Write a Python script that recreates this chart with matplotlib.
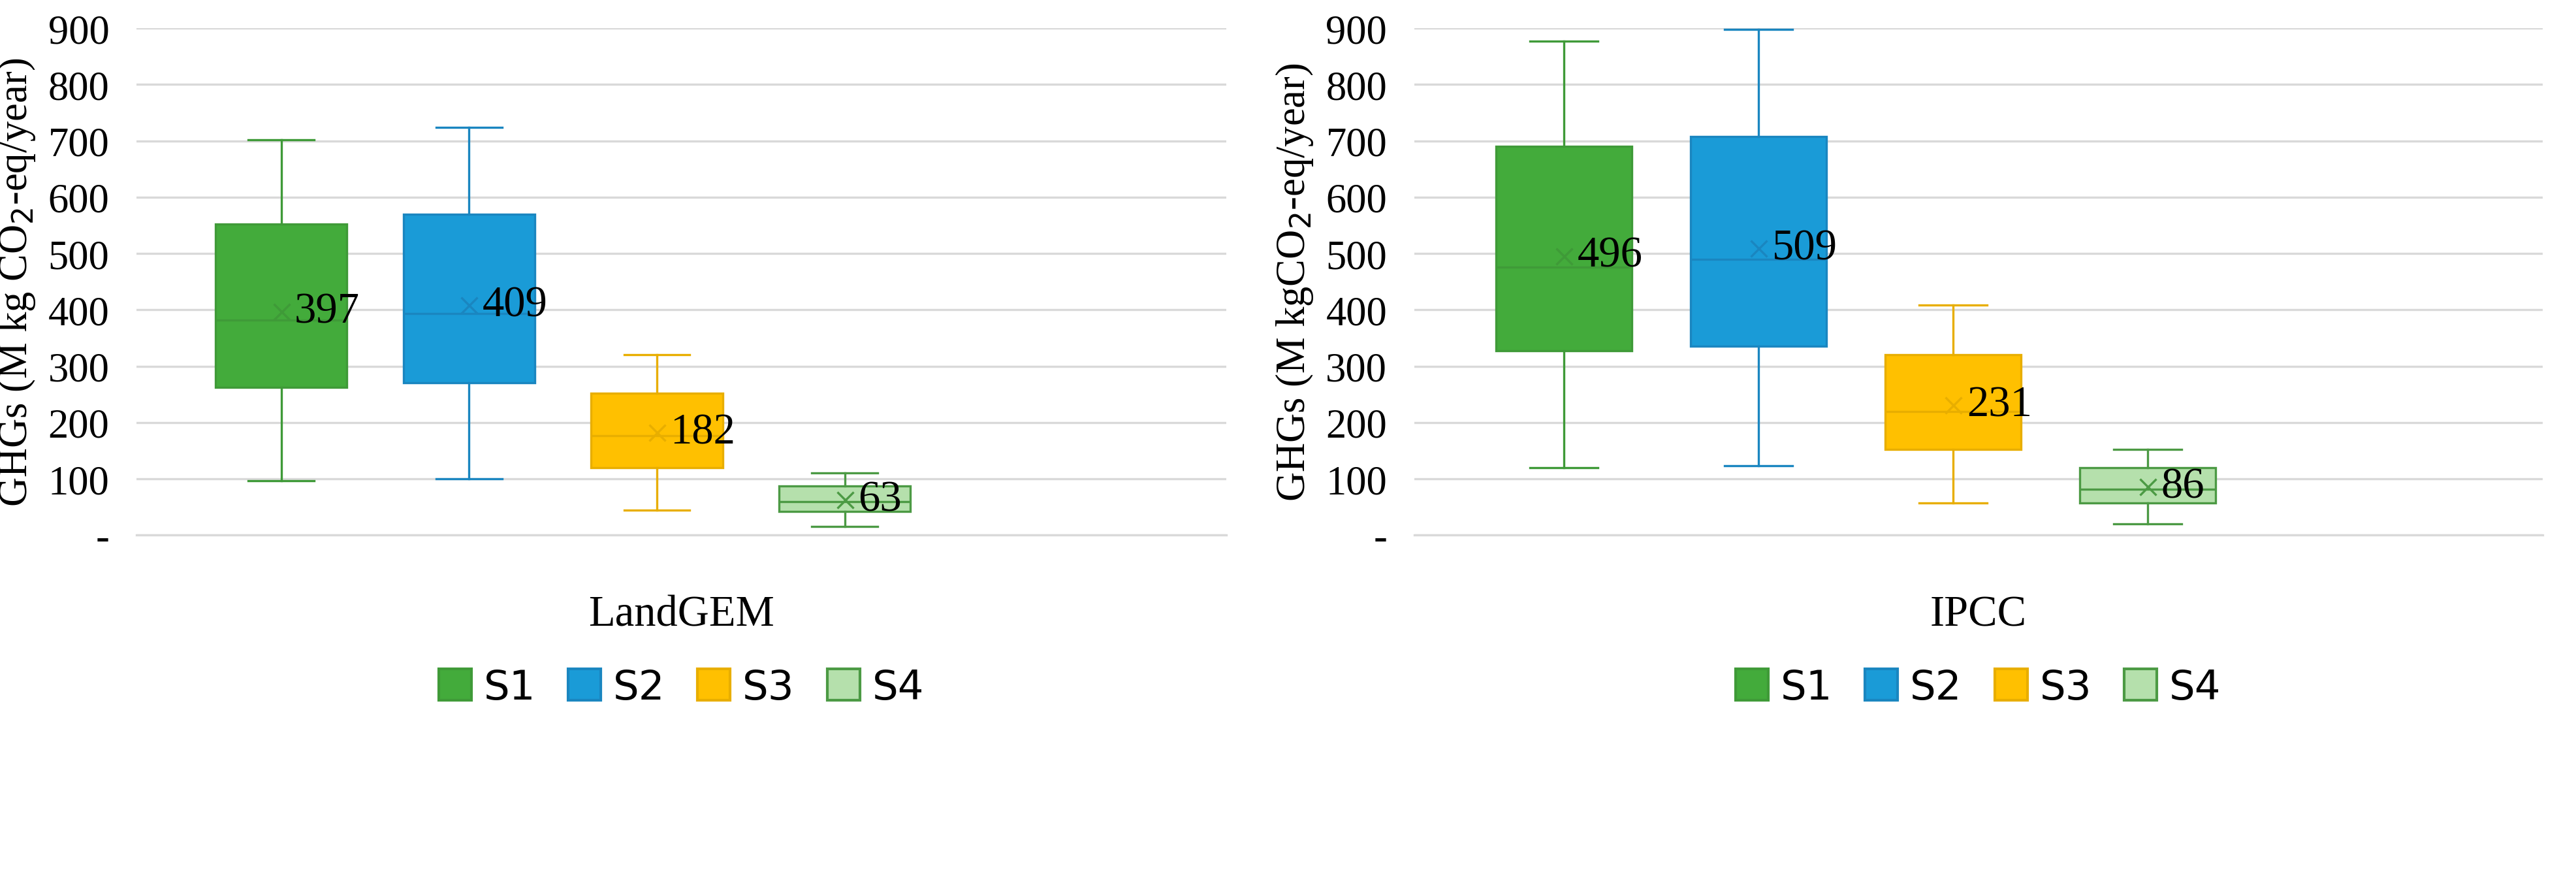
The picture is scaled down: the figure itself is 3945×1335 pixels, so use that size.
import matplotlib.pyplot as plt
from matplotlib.patches import Patch

series = ['S1', 'S2', 'S3', 'S4']
panels = ['LandGEM', 'IPCC']
ylabels = ['GHGs (M kg CO$_2$-eq/year)', 'GHGs (M kgCO$_2$-eq/year)']

# whislo, q1, med, q3, whishi, mean
landgem = [(97, 262, 382, 552, 702, 397),
           (100, 270, 393, 570, 724, 409),
           (45, 120, 177, 252, 320, 182),
           (15, 42, 60, 87, 110, 63)]
ipcc = [(120, 327, 476, 690, 877, 496),
        (123, 336, 490, 708, 898, 509),
        (57, 152, 220, 320, 408, 231),
        (20, 57, 82, 120, 152, 86)]

faces = ['#43ab3b', '#1a9bd7', '#ffc000', '#b5e0ac']
edges = ['#3f9a38', '#1a86c0', '#e8ae00', '#4c9a44']

plt.rcParams['font.family'] = ['Liberation Serif', 'DejaVu Serif']
fig = plt.figure(figsize=(13.15, 4.453), dpi=300)
axes = [fig.add_axes([0.053, 0.386, 0.423, 0.581]),
        fig.add_axes([0.549, 0.386, 0.438, 0.581])]

for ax, data, name, ylab in zip(axes, [landgem, ipcc], panels, ylabels):
    stats = []
    for s, d in zip(series, data):
        stats.append(dict(whislo=d[0], q1=d[1], med=d[2], q3=d[3], whishi=d[4], mean=d[5], label=s))
    pos = [1, 2, 3, 4]
    bp = ax.bxp(stats, positions=pos, widths=0.7, patch_artist=True,
                showmeans=True, showcaps=True, showfliers=False)
    for i in range(4):
        bp['boxes'][i].set(facecolor=faces[i], edgecolor=edges[i], linewidth=0.8)
        bp['medians'][i].set(color=edges[i], linewidth=0.8)
        bp['means'][i].set(marker='x', markeredgecolor=edges[i], markersize=6, markeredgewidth=0.8)
        for w in bp['whiskers'][2*i:2*i+2] + bp['caps'][2*i:2*i+2]:
            w.set(color=edges[i], linewidth=0.8)
        ax.text(pos[i] + 0.07, data[i][5], '%d' % data[i][5], fontsize=16,
                va='center', ha='left')
    ax.set_xlim(0.23, 6.03)
    ax.set_ylim(0, 900)
    ax.set_yticks(range(0, 1000, 100))
    ax.set_yticklabels(['-'] + [str(v) for v in range(100, 1000, 100)], fontsize=15)
    ax.set_xticks([3.13])
    ax.set_xticklabels([name], fontsize=16)
    ax.tick_params(length=0, pad=10)
    ax.tick_params(axis='x', pad=22)
    ax.grid(axis='y', color='#d9d9d9', linewidth=0.8)
    ax.set_axisbelow(True)
    for sp in ['top', 'right', 'left']:
        ax.spines[sp].set_visible(False)
    ax.spines['bottom'].set_color('#d9d9d9')
    ax.set_ylabel(ylab, fontsize=15)
    handles = [Patch(facecolor=f, edgecolor=e, label=s) for f, e, s in zip(faces, edges, series)]
    ax.legend(handles=handles, loc='upper center', bbox_to_anchor=(0.5, -0.19), ncol=4,
              frameon=False, handlelength=0.8, handleheight=0.8, handletextpad=0.3,
              columnspacing=0.8, prop={'family': 'DejaVu Sans', 'size': 15})

fig.savefig('out.png', dpi=300)
